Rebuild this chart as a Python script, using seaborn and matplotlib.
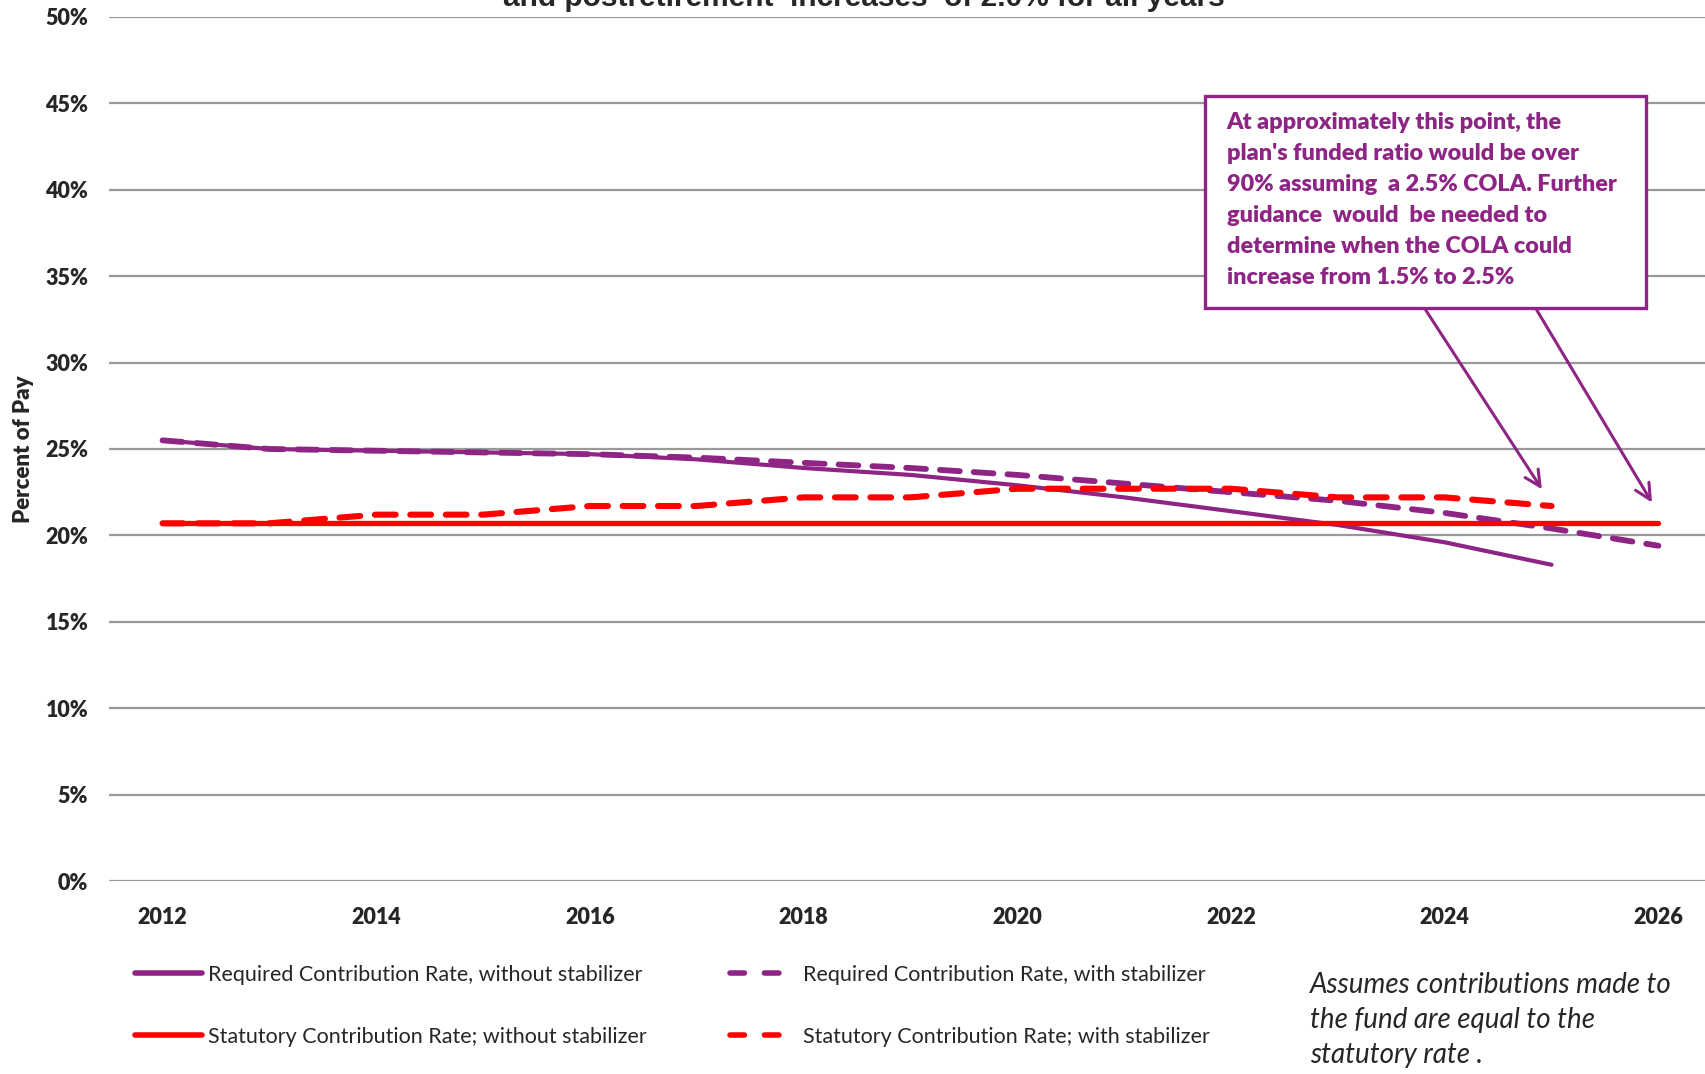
import numpy as np
import pandas as pd
import matplotlib
matplotlib.use("Agg")
import matplotlib.pyplot as plt
import seaborn as sns
from matplotlib.lines import Line2D
from matplotlib.patches import Rectangle

# ---------------- data ----------------
years_full = list(range(2012, 2027))
years_short = list(range(2012, 2026))

req_without = [25.5, 25.0, 24.9, 24.8, 24.7, 24.4, 23.9, 23.5, 22.9, 22.2, 21.4, 20.6, 19.6, 18.3]
req_with = [25.5, 25.0, 24.9, 24.8, 24.7, 24.5, 24.2, 23.9, 23.5, 23.0, 22.5, 22.0, 21.3, 20.4, 19.4]
stat_without = [20.7] * 15
stat_with = [20.7, 20.7, 21.2, 21.2, 21.7, 21.7, 22.2, 22.2, 22.7, 22.7, 22.7, 22.2, 22.2, 21.7]

labels = ["Required Contribution Rate, without stabilizer",
          "Statutory Contribution Rate; without stabilizer",
          "Required Contribution Rate, with stabilizer",
          "Statutory Contribution Rate; with stabilizer"]

y_ticks = list(range(0, 51, 5))
y_tick_labels = [f"{v}%" for v in y_ticks]
x_ticks = list(range(2012, 2027, 2))

title_text = "and postretirement  increases  of 2.0% for all years"
box_lines = ["At approximately this point, the",
             "plan's funded ratio would be over",
             "90% assuming  a 2.5% COLA. Further",
             "guidance  would  be needed to",
             "determine when the COLA could",
             "increase from 1.5% to 2.5%"]
note_lines = ["Assumes contributions made to",
              "the fund are equal to the",
              "statutory rate ."]

PURPLE = "#8E2585"
RED = "#FF0000"

# ---------------- style ----------------
sns.set_style("white")
plt.rcParams["font.family"] = ["Lato", "DejaVu Sans"]

fig = plt.figure(figsize=(17.05, 10.74), dpi=100)
ax = fig.add_axes([0.064, 0.1797, 0.94, 0.8045])

df_rw = pd.DataFrame({"year": years_short, "v": req_without})
df_rd = pd.DataFrame({"year": years_full, "v": req_with})
df_sw = pd.DataFrame({"year": years_full, "v": stat_without})
df_sd = pd.DataFrame({"year": years_short, "v": stat_with})

sns.lineplot(data=df_rw, x="year", y="v", ax=ax, color=PURPLE, lw=3.0,
             solid_capstyle="round", zorder=3)
sns.lineplot(data=df_rd, x="year", y="v", ax=ax, color=PURPLE, lw=4.2, zorder=3)
ax.lines[-1].set_dashes((3.4, 2.4))
ax.lines[-1].set_dash_capstyle("round")
sns.lineplot(data=df_sw, x="year", y="v", ax=ax, color=RED, lw=3.8,
             solid_capstyle="round", zorder=4)
sns.lineplot(data=df_sd, x="year", y="v", ax=ax, color=RED, lw=4.4, zorder=4)
ax.lines[-1].set_dashes((3.4, 2.4))
ax.lines[-1].set_dash_capstyle("round")

ax.set_xlim(2011.5, 2026.5)
ax.set_ylim(0, 50)
ax.set_yticks(y_ticks)
ax.set_yticklabels(y_tick_labels)
ax.set_xticks(x_ticks)
ax.set_xticklabels([str(x) for x in x_ticks])
ax.tick_params(axis="both", length=0, labelsize=15.5)
ax.tick_params(axis="y", pad=15)
ax.tick_params(axis="x", pad=19)
for lab in ax.get_xticklabels() + ax.get_yticklabels():
    lab.set_fontweight("heavy")
ax.set_xlabel("")
ax.set_ylabel("Percent of Pay", fontsize=16, fontweight="heavy", labelpad=8)
ax.grid(axis="y", color="#999999", lw=1.6, zorder=1)
ax.grid(axis="x", visible=False)
for s in ax.spines.values():
    s.set_visible(False)

# ---------------- annotation box ----------------
box = Rectangle((2021.76, 33.16), 2025.88 - 2021.76, 45.43 - 33.16,
                facecolor="white", edgecolor=PURPLE, lw=2.4, zorder=6)
ax.add_patch(box)
for i, line in enumerate(box_lines):
    ax.text(2021.96, 43.87 - i * 1.795, line, color=PURPLE, fontsize=16.8,
            fontweight="heavy", va="center", ha="left", zorder=7)

ax.annotate("", xy=(2024.91, 22.67), xytext=(2023.81, 33.16),
            arrowprops=dict(arrowstyle="->", color=PURPLE, lw=2.2,
                            mutation_scale=28, shrinkA=0, shrinkB=0), zorder=5)
ax.annotate("", xy=(2025.94, 21.9), xytext=(2024.85, 33.16),
            arrowprops=dict(arrowstyle="->", color=PURPLE, lw=2.2,
                            mutation_scale=28, shrinkA=0, shrinkB=0), zorder=5)

# ---------------- title (cut off at top) ----------------
fig.text(864 / 1705, 1 - 6 / 1074, title_text, ha="center", va="baseline",
         fontsize=21.5, fontweight="bold", family=["Liberation Sans", "DejaVu Sans"])

# ---------------- legends ----------------
h_rw = Line2D([], [], color=PURPLE, lw=4.0, solid_capstyle="round")
h_sw = Line2D([], [], color=RED, lw=4.0, solid_capstyle="round")
h_rd = Line2D([], [], color=PURPLE, lw=4.0, dashes=(2.6, 3.6), dash_capstyle="round")
h_sd = Line2D([], [], color=RED, lw=4.0, dashes=(2.6, 3.6), dash_capstyle="round")

leg_kw = dict(frameon=False, fontsize=15.5, handlelength=3.1, handletextpad=0.3,
              labelspacing=1.95, borderpad=0, borderaxespad=0, loc="center left")
leg1 = fig.legend([h_rw, h_sw], labels[:2], bbox_to_anchor=(135 / 1705, 1 - 1006 / 1074), **leg_kw)
leg2 = fig.legend([h_rd, h_sd], labels[2:], bbox_to_anchor=(730 / 1705, 1 - 1006 / 1074), **leg_kw)

# ---------------- italic note ----------------
for i, line in enumerate(note_lines):
    fig.text(1310 / 1705, 1 - (985 + i * 35) / 1074, line, fontsize=20,
             style="italic", ha="left", va="center")

fig.savefig("out.png", dpi=100)
